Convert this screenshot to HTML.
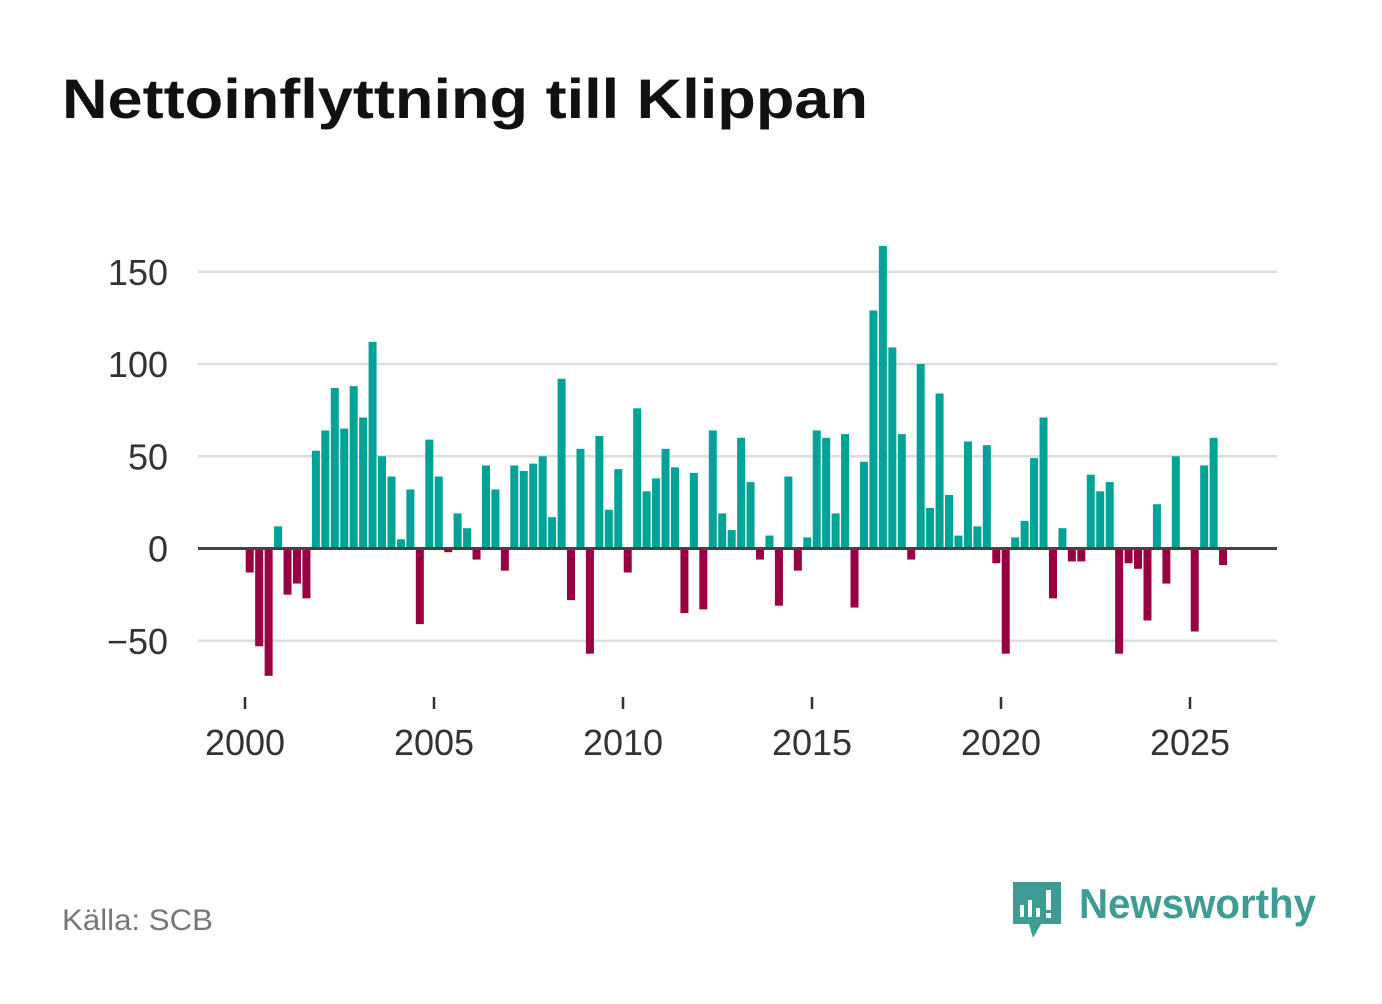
<!DOCTYPE html>
<html><head><meta charset="utf-8"><style>
body{margin:0;background:#fff;width:1382px;height:999px;overflow:hidden;font-family:"Liberation Sans",sans-serif}
</style></head><body>
<svg width="1382" height="999" viewBox="0 0 1382 999">
<text x="62" y="118" font-size="56" font-weight="bold" fill="#111" textLength="806" lengthAdjust="spacingAndGlyphs">Nettoinflyttning till Klippan</text>
<g id="grid"></g>
<g id="bars"></g>
<g id="axes"></g>
<text x="62" y="930" font-size="30" fill="#777" textLength="151" lengthAdjust="spacingAndGlyphs">Källa: SCB</text>
<g>
<path d="M1013 882h48v42h-20l-8 14-4-14h-16z" fill="#3f9c94"/>
<rect x="1020" y="905" width="4" height="12" fill="#fff"/><rect x="1028" y="900" width="4" height="17" fill="#fff"/><rect x="1036" y="908" width="4" height="9" fill="#fff"/><rect x="1046" y="890" width="5" height="20" fill="#fff"/><rect x="1046" y="913" width="5" height="5" fill="#fff"/>
<text x="1079" y="918" font-size="42" font-weight="bold" fill="#3f9c94" textLength="237" lengthAdjust="spacingAndGlyphs">Newsworthy</text>
</g>
</svg>
<script>
const values=[-13,-53,-69,12,-25,-19,-27,53,64,87,65,88,71,112,50,39,5,32,-41,59,39,-2,19,11,-6,45,32,-12,45,42,46,50,17,92,-28,54,-57,61,21,43,-13,76,31,38,54,44,-35,41,-33,64,19,10,60,36,-6,7,-31,39,-12,6,64,60,19,62,-32,47,129,164,109,62,-6,100,22,84,29,7,58,12,56,-8,-57,6,15,49,71,-27,11,-7,-7,40,31,36,-57,-8,-11,-39,24,-19,50,0,-45,45,60,-9];
const yTicks=[-50,0,50,100,150];
const yTickLabels=["\u221250","0","50","100","150"];
const xTicks=[2000,2005,2010,2015,2020,2025];
const startYear=2000;
const NS="http://www.w3.org/2000/svg";
const y=v=>548.5-v*1.845;
const x=t=>245+(t-2000)*37.8;
function mk(tag,attrs,parent){const e=document.createElementNS(NS,tag);for(const k in attrs)e.setAttribute(k,attrs[k]);document.getElementById(parent).appendChild(e);return e;}
yTicks.forEach((t,i)=>{
 if(t!==0){const l=mk('line',{x1:198,x2:1277,y1:y(t),y2:y(t),stroke:'#ddd','stroke-width':2.5},'grid');
 
 }
 const tx=mk('text',{x:168,y:y(t)+13,'text-anchor':'end','font-size':36,fill:'#333'},'axes');
 tx.textContent=yTickLabels[i];
 
 
});
values.forEach((v,i)=>{
 const cx=x(startYear+(i+0.5)/4);
 const r=mk('rect',{x:cx-4,width:8,y:Math.min(y(v),y(0)),height:Math.abs(y(v)-y(0)),fill:v>=0?'#00a396':'#990041'},'bars');
 
 
});
const z=mk('line',{x1:198,x2:1277,y1:y(0),y2:y(0),stroke:'#444','stroke-width':3},'axes');


xTicks.forEach(t=>{
 const l=mk('line',{x1:x(t),x2:x(t),y1:697,y2:709,stroke:'#333','stroke-width':2.5},'axes');
 
 
 const tx=mk('text',{x:x(t),y:755,'text-anchor':'middle','font-size':36,fill:'#333'},'axes');
 tx.textContent=t;
 
 
});
</script>
</body></html>
